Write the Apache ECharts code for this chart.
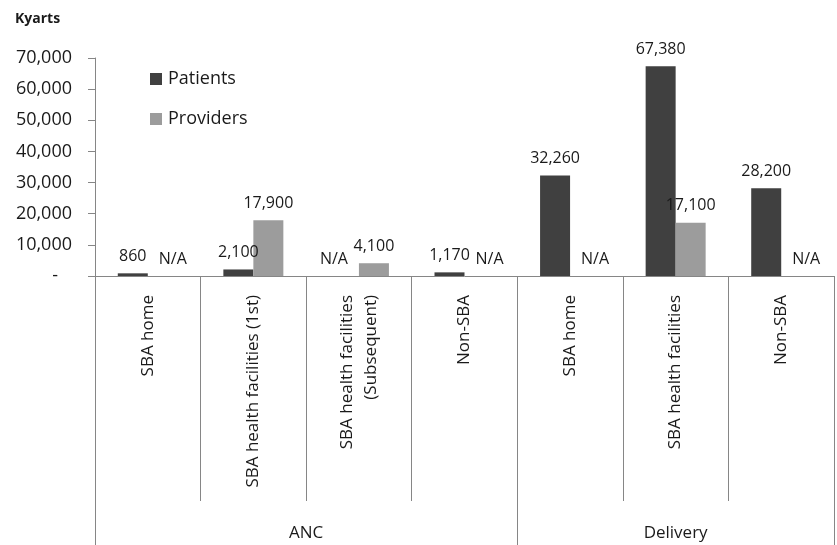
<!DOCTYPE html>
<html>
<head>
<meta charset="utf-8">
<script src="https://cdn.jsdelivr.net/npm/echarts@6/dist/echarts.min.js"></script>
<style>
  html, body { margin: 0; padding: 0; background: #fff; }
  #chart { width: 837px; height: 545px; }
</style>
</head>
<body>
<div id="chart"></div>
<script>
// Service categories (x axis) and their groups
const categories = [
  'SBA home',
  'SBA health facilities (1st)',
  'SBA health facilities\n(Subsequent)',
  'Non-SBA',
  'SBA home',
  'SBA health facilities',
  'Non-SBA'
];
const groupNames = ['ANC', 'Delivery'];
const groupSizes = [4, 3];

// Values in Kyarts; null = N/A
const patients  = [860, 2100, null, 1170, 32260, 67380, 28200];
const providers = [null, 17900, 4100, null, null, 17100, null];

// Y axis ticks
const yMin = 0, yMax = 70000, yStep = 10000;

const FONT = '"Open Sans", "Liberation Sans", sans-serif';
const AXIS_GREY = '#868686';
const TEXT = '#1a1a1a';

// Half-category slots for the group axis (boundaryGap false: 2n+1 points)
const groupSlots = new Array(categories.length * 2 + 1).fill('');
const groupBounds = [0];
let acc = 0;
groupNames.forEach((name, i) => {
  groupSlots[acc + groupSizes[i]] = name;     // centre of the group, in half-units
  acc += groupSizes[i] * 2;
  groupBounds.push(acc);
});

function barData(values, side) {
  return values.map(v => v === null
    ? { value: 0, label: { formatter: 'N/A', offset: [side * 10, 0] } }
    : { value: v });
}

const fmt = v => v.toLocaleString('en-US');

const chart = echarts.init(document.getElementById('chart'), null, { renderer: 'canvas' });
chart.setOption({
  animation: false,
  backgroundColor: '#fff',
  textStyle: { fontFamily: FONT },
  title: {
    text: 'Kyarts',
    left: 15, top: 12, padding: 0,
    textStyle: { fontFamily: FONT, fontSize: 14, fontWeight: 'bold', color: TEXT }
  },
  legend: {
    orient: 'vertical',
    left: 150, top: 70, padding: 0,
    itemWidth: 12, itemHeight: 12, itemGap: 22,
    icon: 'rect',
    textStyle: { fontFamily: FONT, fontSize: 18, color: TEXT, padding: [0, 0, 0, 1] },
    data: ['Patients', 'Providers']
  },
  grid: { left: 95, top: 58, width: 746, height: 218 },
  xAxis: [
    {
      type: 'category',
      data: categories,
      axisLine: { lineStyle: { color: AXIS_GREY, width: 1 } },
      axisTick: { show: true, interval: 0, length: 225, lineStyle: { color: AXIS_GREY } },
      axisLabel: {
        interval: 0, rotate: 90, margin: 19,
        fontFamily: FONT, fontSize: 17, color: TEXT, lineHeight: 24, align: 'right'
      }
    },
    {
      type: 'category',
      boundaryGap: false,
      data: groupSlots,
      position: 'bottom',
      axisLine: { show: false },
      axisTick: {
        show: true, length: 272,
        interval: i => groupBounds.indexOf(i) >= 0,
        lineStyle: { color: AXIS_GREY }
      },
      axisLabel: {
        interval: 0, margin: 249,
        fontFamily: FONT, fontSize: 17, color: TEXT
      }
    }
  ],
  yAxis: {
    type: 'value',
    min: yMin, max: yMax, interval: yStep,
    axisLine: { show: true, lineStyle: { color: AXIS_GREY } },
    axisTick: { show: true, length: 7, lineStyle: { color: AXIS_GREY } },
    splitLine: { show: false },
    axisLabel: {
      margin: 23,
      fontFamily: FONT, fontSize: 18, color: TEXT,
      formatter: v => v === 0 ? '-   ' : fmt(v)
    }
  },
  series: [
    {
      name: 'Patients',
      type: 'bar',
      barWidth: 30,
      barGap: '0%',
      itemStyle: { color: '#404040' },
      label: {
        show: true, position: 'top', distance: 9,
        fontFamily: FONT, fontSize: 16, color: TEXT,
        formatter: p => fmt(p.value)
      },
      data: barData(patients, -1)
    },
    {
      name: 'Providers',
      type: 'bar',
      barWidth: 30,
      barGap: '0%',
      itemStyle: { color: '#9c9c9c' },
      label: {
        show: true, position: 'top', distance: 9,
        fontFamily: FONT, fontSize: 16, color: TEXT,
        formatter: p => fmt(p.value)
      },
      data: barData(providers, 1)
    }
  ]
});
</script>
</body>
</html>
